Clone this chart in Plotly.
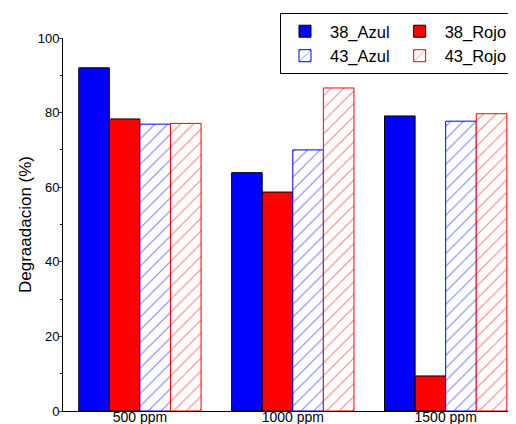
import plotly.graph_objects as go

categories = ["500 ppm", "1000 ppm", "1500 ppm"]
azul_38 = [92.0, 63.9, 79.1]
rojo_38 = [78.3, 58.7, 9.4]
azul_43 = [76.9, 70.0, 77.7]
rojo_43 = [77.1, 86.6, 79.7]
y_ticks = [0, 20, 40, 60, 80, 100]

FONT = "Arial, Liberation Sans, sans-serif"

fig = go.Figure()
fig.add_trace(go.Bar(name="38_Azul", x=categories, y=azul_38, legendgroup="azul",
                     marker=dict(color="#0000FF", line=dict(color="#000000", width=1))))
fig.add_trace(go.Bar(name="38_Rojo", x=categories, y=rojo_38, legendgroup="rojo",
                     marker=dict(color="#FF0000", line=dict(color="#000000", width=1))))
fig.add_trace(go.Bar(name="43_Azul", x=categories, y=azul_43, legendgroup="azul",
                     marker=dict(color="white", line=dict(color="#0000FF", width=1),
                                 pattern=dict(shape="/", fgcolor="#0000FF", bgcolor="white",
                                              size=9, solidity=0.12))))
fig.add_trace(go.Bar(name="43_Rojo", x=categories, y=rojo_43, legendgroup="rojo",
                     marker=dict(color="white", line=dict(color="#FF0000", width=1),
                                 pattern=dict(shape="/", fgcolor="#FF0000", bgcolor="white",
                                              size=9, solidity=0.12))))

fig.update_layout(
    width=508, height=416,
    margin=dict(l=55, r=0, t=30, b=13, autoexpand=False),
    paper_bgcolor="white", plot_bgcolor="white",
    barmode="group", bargap=0.2, bargroupgap=0,
    font=dict(family=FONT, size=13, color="black"),
    legend=dict(orientation="h", x=0.479, xanchor="left", y=1.067, yanchor="top",
                bordercolor="black", borderwidth=1, bgcolor="white",
                font=dict(size=16.5, family=FONT), traceorder="grouped",
                tracegroupgap=0, itemwidth=40),
    showlegend=True,
)
fig.update_xaxes(range=[-0.503, 2.46], showline=True, linecolor="black", linewidth=1,
                 ticks="", showgrid=False, zeroline=False, automargin=False,
                 tickfont=dict(size=14, family=FONT), ticklabelstandoff=-7)
fig.update_yaxes(range=[0, 100], tickvals=y_ticks, showline=True, linecolor="black", linewidth=1,
                 ticks="outside", ticklen=3, showgrid=False, zeroline=False, automargin=False,
                 tickfont=dict(size=13, family=FONT), ticklabelstandoff=-3,
                 minor=dict(dtick=10, ticks="outside", ticklen=2, tickcolor="black"),
                 title=dict(text="Degraadacion (%)", font=dict(size=17, family=FONT), standoff=1))

fig.write_html("out.html")
